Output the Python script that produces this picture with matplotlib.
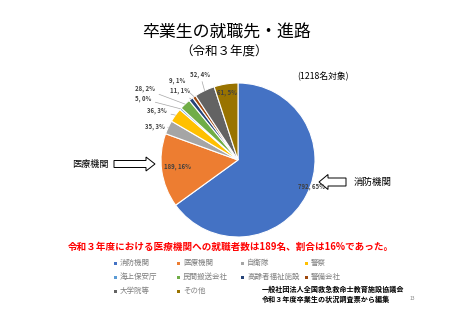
import numpy as np
import matplotlib.pyplot as plt
from matplotlib.patches import FancyArrow, Rectangle

plt.rcParams['font.family'] = ['Noto Sans CJK JP', 'DejaVu Sans']

categories = ['消防機関', '医療機関', '自衛隊', '警察', '海上保安庁',
              '民間搬送会社', '高齢者福祉施設', '警備会社', '大学院等', 'その他']
counts = [792, 189, 35, 36, 5, 28, 11, 9, 52, 61]
colors = ['#4472C4', '#ED7D31', '#A5A5A5', '#FFC000', '#5B9BD5',
          '#70AD47', '#264478', '#9E480E', '#636363', '#997300']

total = sum(counts)
labels = [f'{c}, {round(c / total * 100)}%' for c in counts]

H = 320
def Y(y):  # image row -> axes y
    return H - y

fig = plt.figure(figsize=(4.53, 3.2), dpi=100)
ax = fig.add_axes([0, 0, 1, 1])

cx, cy, r = 238, Y(160), 77
wedges, _ = ax.pie(counts, colors=colors, startangle=90, counterclock=False,
                   radius=r, center=(cx, cy),
                   wedgeprops=dict(edgecolor='white', linewidth=0.8))
ax.set_xlim(0, 453)
ax.set_ylim(0, H)
ax.axis('off')

# data labels (image coords)
inside = {0: (312, 186), 1: (178, 167), 9: (227, 92)}
outside = {2: (155, 126), 3: (157, 111), 4: (143, 99), 5: (145, 89),
           6: (180, 91), 7: (177, 81), 8: (200, 74)}
lab_kw = dict(fontsize=4.3, fontweight='bold', color='#404040',
              ha='center', va='center')
for i, (x, y) in inside.items():
    ax.text(x, Y(y), labels[i], **lab_kw)
for i, (x, y) in outside.items():
    w = wedges[i]
    mid = np.deg2rad((w.theta1 + w.theta2) / 2)
    px, py = cx + r * np.cos(mid), cy + r * np.sin(mid)
    ax.annotate(labels[i], xy=(px, py), xytext=(x, Y(y)),
                arrowprops=dict(arrowstyle='-', color='#A6A6A6', lw=0.5,
                                shrinkA=1, shrinkB=0), **lab_kw)

# titles
ax.text(226, Y(33), '卒業生の就職先・進路', fontsize=12.2, ha='center', va='center')
ax.text(224, Y(52), '（令和３年度）', fontsize=9, ha='center', va='center')
ax.text(323, Y(77), '(1218名対象)', fontsize=6.3, ha='center', va='center')

# arrows
ax.add_patch(FancyArrow(114, Y(164), 32, 0, width=7, head_width=14,
                        head_length=9, length_includes_head=False,
                        facecolor='white', edgecolor='black', lw=0.7))
ax.text(90, Y(164), '医療機関', fontsize=6.6, ha='center', va='center')
ax.add_patch(FancyArrow(346, Y(182), -18, 0, width=8, head_width=15,
                        head_length=9, length_includes_head=False,
                        facecolor='white', edgecolor='black', lw=0.7))
ax.text(373, Y(182), '消防機関', fontsize=6.8, ha='center', va='center')

# summary line
ax.text(231, Y(247), '令和３年度における医療機関への就職者数は189名、割合は16%であった。',
        fontsize=6.9, fontweight='bold', color='#FF0000', ha='center', va='center')

# legend
col_x = [115, 178, 242, 306]
row_y = [263, 277, 291]
for k, (name, col) in enumerate(zip(categories, colors)):
    x, y = col_x[k % 4], row_y[k // 4]
    ax.add_patch(Rectangle((x - 1.5, Y(y) - 1.5), 3, 3, facecolor=col, edgecolor='none'))
    ax.text(x + 5, Y(y), name, fontsize=5.4, color='#7F7F7F', ha='left', va='center')

# footer
ax.text(262, Y(289), '一般社団法人全国救急救命士教育施設協議会', fontsize=5.1,
        fontweight='bold', ha='left', va='center')
ax.text(262, Y(299), '令和３年度卒業生の状況調査票から編集', fontsize=5.1,
        fontweight='bold', ha='left', va='center')
ax.text(412, Y(299), '13', fontsize=3.5, color='#808080', ha='center', va='center')

fig.savefig('out.png', dpi=100)
